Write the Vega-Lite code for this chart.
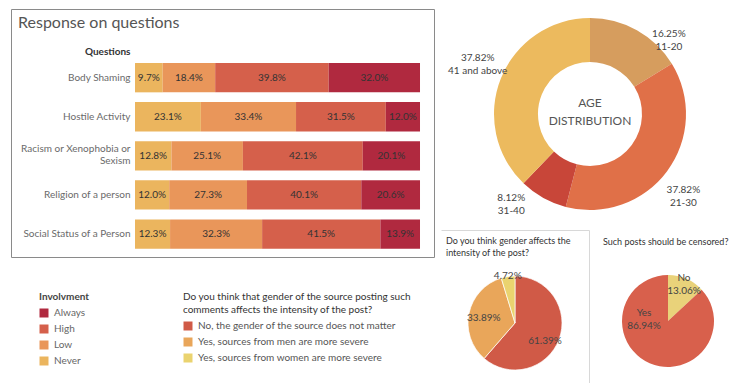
{
  "$schema": "https://vega.github.io/schema/vega-lite/v6.json",
  "padding": {"left": 10, "top": 8, "right": 0, "bottom": 0},
  "background": "white",
  "bounds": "flush",
  "spacing": 7,
  "config": {
    "font": "Lato",
    "view": {"stroke": null},
    "text": {"font": "Lato"},
    "title": {"font": "Lato"},
    "legend": {"labelFont": "Lato", "titleFont": "Lato"},
    "axis": {"labelFont": "Lato", "titleFont": "Lato"}
  },
  "resolve": {"scale": {"color": "independent", "theta": "independent"}, "legend": {"color": "independent"}},
  "hconcat": [
    {
      "width": 423,
      "height": 248,
      "view": {"stroke": "#8a8a8a", "strokeWidth": 1},
      "title": {"text": "Response on questions", "anchor": "start", "frame": "group", "offset": -22, "dx": 7, "fontSize": 16, "fontWeight": "normal", "color": "#555555"},
      "data": {"values": [
        {"question": "Body Shaming", "level": "Never", "pct": 0.097},
        {"question": "Body Shaming", "level": "Low", "pct": 0.184},
        {"question": "Body Shaming", "level": "High", "pct": 0.398},
        {"question": "Body Shaming", "level": "Always", "pct": 0.320},
        {"question": "Hostile Activity", "level": "Never", "pct": 0.231},
        {"question": "Hostile Activity", "level": "Low", "pct": 0.334},
        {"question": "Hostile Activity", "level": "High", "pct": 0.315},
        {"question": "Hostile Activity", "level": "Always", "pct": 0.120},
        {"question": "Racism or Xenophobia or Sexism", "level": "Never", "pct": 0.128},
        {"question": "Racism or Xenophobia or Sexism", "level": "Low", "pct": 0.251},
        {"question": "Racism or Xenophobia or Sexism", "level": "High", "pct": 0.421},
        {"question": "Racism or Xenophobia or Sexism", "level": "Always", "pct": 0.201},
        {"question": "Religion of a person", "level": "Never", "pct": 0.120},
        {"question": "Religion of a person", "level": "Low", "pct": 0.273},
        {"question": "Religion of a person", "level": "High", "pct": 0.401},
        {"question": "Religion of a person", "level": "Always", "pct": 0.206},
        {"question": "Social Status of a Person", "level": "Never", "pct": 0.123},
        {"question": "Social Status of a Person", "level": "Low", "pct": 0.323},
        {"question": "Social Status of a Person", "level": "High", "pct": 0.415},
        {"question": "Social Status of a Person", "level": "Always", "pct": 0.139}
      ]},
      "transform": [
        {"stack": "pct", "groupby": ["question"], "sort": [{"field": "level", "order": "descending"}], "offset": "normalize", "as": ["x0", "x1"]},
        {"calculate": "(datum.x0 + datum.x1) / 2", "as": "xm"}
      ],
      "encoding": {
        "y": {
          "field": "question", "type": "nominal", "sort": null,
          "scale": {"paddingInner": 0.25, "paddingOuter": 0.797, "align": 0.867},
          "axis": {
            "title": "Questions", "orient": "left", "offset": -124, "domain": false, "ticks": false,
            "labelPadding": 5, "labelFontSize": 10, "labelColor": "#6a6a6a", "labelLimit": 200,
            "labelExpr": "datum.label == 'Racism or Xenophobia or Sexism' ? ['Racism or Xenophobia or', 'Sexism'] : datum.label",
            "labelOffset": {"condition": {"test": "datum.value == 'Racism or Xenophobia or Sexism'", "value": -7}, "value": 0},
            "titleAngle": 0, "titleAlign": "right", "titleBaseline": "middle", "titleX": -5, "titleY": 42,
            "titleFontSize": 10, "titleFontWeight": "bold", "titleColor": "#333333"
          }
        }
      },
      "layer": [
        {
          "mark": {"type": "bar"},
          "encoding": {
            "x": {"field": "x0", "type": "quantitative", "scale": {"domain": [-0.4351, 1.0491], "nice": false, "zero": false}, "axis": null},
            "x2": {"field": "x1"},
            "color": {
              "field": "level", "type": "nominal",
              "scale": {"domain": ["Always", "High", "Low", "Never"], "range": ["#b0293f", "#d5604b", "#e9965a", "#ebb55e"]},
              "legend": {
                "title": "Involvment", "orient": "none", "legendX": 28, "legendY": 283,
                "symbolType": "square", "symbolSize": 81, "symbolStrokeWidth": 0,
                "labelFontSize": 10, "labelColor": "#666666", "titleFontSize": 10, "titleFontWeight": "bold",
                "titleColor": "#444444", "rowPadding": 6, "titlePadding": 6, "labelOffset": 5
              }
            }
          }
        },
        {
          "mark": {"type": "text", "fontSize": 10, "color": "#333333"},
          "encoding": {
            "x": {"field": "xm", "type": "quantitative"},
            "text": {"field": "pct", "type": "quantitative", "format": ".1%"}
          }
        }
      ]
    },
    {
      "bounds": "flush",
      "spacing": 11,
      "resolve": {"scale": {"color": "independent", "theta": "independent"}, "legend": {"color": "independent"}},
      "vconcat": [
        {
          "width": 298,
          "height": 210,
          "data": {"values": [
            {"age": "11-20", "share": 0.1625},
            {"age": "21-30", "share": 0.3782},
            {"age": "31-40", "share": 0.0812},
            {"age": "41 and above", "share": 0.3782}
          ]},
          "transform": [
            {"calculate": "format(datum.share, '.2%') + '\\n' + datum.age", "as": "lbl"},
            {"stack": "share", "groupby": [], "sort": [{"field": "age", "order": "ascending"}], "as": ["t0", "t1"]},
            {"calculate": "(datum.t0 + datum.t1) / 2", "as": "tm"}
          ],
          "layer": [
            {
              "mark": {"type": "arc", "innerRadius": 52, "outerRadius": 96},
              "encoding": {
                "theta": {"field": "t0", "type": "quantitative", "scale": {"domain": [0, 1.0001], "nice": false, "zero": true}},
                "theta2": {"field": "t1"},
                "color": {"field": "age", "type": "nominal", "scale": {"domain": ["11-20", "21-30", "31-40", "41 and above"], "range": ["#d69d5e", "#e07048", "#c84639", "#ecba5e"]}, "legend": null}
              }
            },
            {
              "transform": [{"filter": "datum.age == '11-20'"}],
              "mark": {"type": "text", "radius": 100, "dx": 30, "dy": 7, "lineBreak": "\n", "lineHeight": 13, "fontSize": 10, "color": "#444444"},
              "encoding": {
                "theta": {"field": "tm", "type": "quantitative"},
                "text": {"field": "lbl"}
              }
            },
            {
              "transform": [{"filter": "datum.age == '21-30'"}],
              "mark": {"type": "text", "radius": 120, "dx": -3, "dy": 5, "lineBreak": "\n", "lineHeight": 13, "fontSize": 10, "color": "#444444"},
              "encoding": {
                "theta": {"field": "tm", "type": "quantitative"},
                "text": {"field": "lbl"}
              }
            },
            {
              "transform": [{"filter": "datum.age == '31-40'"}],
              "mark": {"type": "text", "radius": 110, "dx": -25, "dy": -12, "lineBreak": "\n", "lineHeight": 13, "fontSize": 10, "color": "#444444"},
              "encoding": {
                "theta": {"field": "tm", "type": "quantitative"},
                "text": {"field": "lbl"}
              }
            },
            {
              "transform": [{"filter": "datum.age == '41 and above'"}],
              "mark": {"type": "text", "radius": 120, "dx": -1, "dy": -11, "lineBreak": "\n", "lineHeight": 13, "fontSize": 10, "color": "#444444"},
              "encoding": {
                "theta": {"field": "tm", "type": "quantitative"},
                "text": {"field": "lbl"}
              }
            },
            {
              "data": {"values": [{"label": "AGE DISTRIBUTION"}]},
              "mark": {"type": "text", "fontSize": 12, "color": "#555555", "lineHeight": 18, "dy": -11},
              "encoding": {
                "text": {"value": ["AGE", "DISTRIBUTION"]}
              }
            }
          ]
        },
        {
          "bounds": "flush",
          "spacing": 0,
          "resolve": {"scale": {"color": "independent", "theta": "independent"}, "legend": {"color": "independent"}},
          "hconcat": [
            {
              "width": 148,
              "height": 186,
              "view": {"stroke": "#d8d8d8", "strokeWidth": 1, "strokeDash": [334, 334]},
              "title": {"text": ["Do you think gender affects the", "intensity of the post?"], "anchor": "start", "frame": "group", "offset": -28, "dx": 5, "fontSize": 9, "fontWeight": "normal", "color": "#333333", "lineHeight": 12, "limit": 300},
              "data": {"values": [
                {"gender": "No, the gender of the source does not matter", "share": 0.6139},
                {"gender": "Yes, sources from men are more severe", "share": 0.3389},
                {"gender": "Yes, sources from women are more severe", "share": 0.0472}
              ]},
              "encoding": {
                "theta": {"field": "share", "type": "quantitative", "stack": true},
                "order": {"field": "gender", "sort": "ascending"}
              },
              "layer": [
                {
                  "mark": {"type": "arc", "outerRadius": 47, "stroke": "white", "strokeWidth": 0.7},
                  "encoding": {
                    "color": {
                      "field": "gender", "type": "nominal",
                      "scale": {"domain": ["No, the gender of the source does not matter", "Yes, sources from men are more severe", "Yes, sources from women are more severe"], "range": ["#d05a47", "#e9a65a", "#ead36f"]},
                      "legend": {
                        "title": ["Do you think that gender of the source posting such", "comments affects the intensity of the post?"],
                        "orient": "none", "legendX": -258, "legendY": 62,
                        "symbolType": "square", "symbolSize": 81, "symbolStrokeWidth": 0,
                        "labelFontSize": 10, "labelColor": "#555555", "labelLimit": 400,
                        "titleFontSize": 10, "titleFontWeight": "normal", "titleColor": "#333333", "titleLimit": 400,
                        "titleLineHeight": 13, "rowPadding": 6, "titlePadding": 6, "labelOffset": 5
                      }
                    }
                  }
                },
                {
                  "mark": {"type": "text", "radius": 32, "dy": 7, "fontSize": 10, "color": "#444444"},
                  "encoding": {
                    "detail": {"field": "gender"},
                    "text": {"condition": {"test": "datum.share < 0.5", "value": ""}, "field": "share", "type": "quantitative", "format": ".2%"}
                  }
                },
                {
                  "mark": {"type": "text", "radius": 32, "dy": 2, "fontSize": 10, "color": "#444444"},
                  "encoding": {
                    "detail": {"field": "gender"},
                    "text": {"condition": {"test": "datum.share >= 0.5 || datum.share < 0.1", "value": ""}, "field": "share", "type": "quantitative", "format": ".2%"}
                  }
                },
                {
                  "mark": {"type": "text", "radius": 49, "dy": 1, "fontSize": 10, "color": "#444444"},
                  "encoding": {
                    "detail": {"field": "gender"},
                    "text": {"condition": {"test": "datum.share >= 0.1", "value": ""}, "field": "share", "type": "quantitative", "format": ".2%"}
                  }
                }
              ]
            },
            {
              "width": 158,
              "height": 182,
              "title": {"text": "Such posts should be censored?", "anchor": "start", "frame": "group", "offset": -17, "dx": 14, "fontSize": 9, "fontWeight": "normal", "color": "#333333", "limit": 300},
              "data": {"values": [
                {"answer": "No", "share": 0.1306},
                {"answer": "Yes", "share": 0.8694}
              ]},
              "transform": [
                {"calculate": "datum.answer + '\\n' + format(datum.share, '.2%')", "as": "lbl"}
              ],
              "encoding": {
                "theta": {"field": "share", "type": "quantitative", "stack": true},
                "order": {"field": "answer", "sort": "ascending"}
              },
              "layer": [
                {
                  "mark": {"type": "arc", "outerRadius": 46},
                  "encoding": {
                    "color": {"field": "answer", "type": "nominal", "scale": {"domain": ["No", "Yes"], "range": ["#e9d27a", "#d8604c"]}, "legend": null}
                  }
                },
                {
                  "mark": {"type": "text", "radius": 40, "dy": -6, "lineBreak": "\n", "lineHeight": 13, "fontSize": 10, "color": "#444444"},
                  "encoding": {
                    "detail": {"field": "answer"},
                    "text": {"condition": {"test": "datum.answer != 'No'", "value": ""}, "field": "lbl"}
                  }
                },
                {
                  "mark": {"type": "text", "radius": 10, "dx": -20, "dy": -17, "lineBreak": "\n", "lineHeight": 13, "fontSize": 10, "color": "#444444"},
                  "encoding": {
                    "detail": {"field": "answer"},
                    "text": {"condition": {"test": "datum.answer != 'Yes'", "value": ""}, "field": "lbl"}
                  }
                }
              ]
            }
          ]
        }
      ]
    }
  ]
}
